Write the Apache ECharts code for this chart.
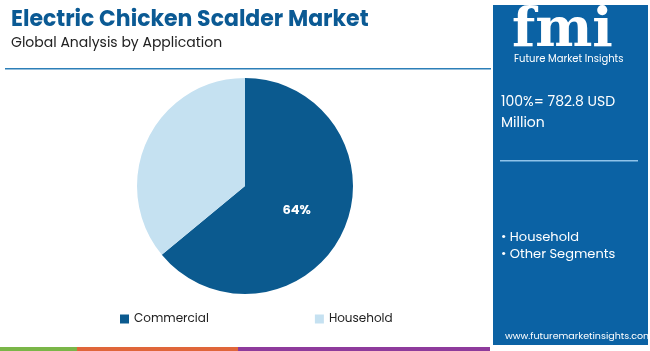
<!DOCTYPE html>
<html>
<head>
<meta charset="utf-8">
<script src="https://cdn.jsdelivr.net/npm/echarts@6/dist/echarts.min.js"></script>
<style>
  html, body { margin: 0; padding: 0; background: #fff; }
  #chart { width: 650px; height: 351px; }
</style>
</head>
<body>
<div id="chart"></div>
<script>
var categories = ['Commercial', 'Household'];
var shares = [64, 36];
var colors = ['#0b5a8f', '#c5e1f1'];
var panelTotal = '100%= 782.8 USD';
var panelUnit = 'Million';
var panelItems = ['• Household', '• Other Segments'];

var myChart = echarts.init(document.getElementById('chart'));

var pieData = [];
for (var i = 0; i < categories.length; i++) {
    pieData.push({
        name: categories[i],
        value: shares[i],
        itemStyle: { color: colors[i] },
        label: { show: i === 0 }
    });
}

var fontFam = 'Poppins, "Open Sans", "Noto Sans", sans-serif';

myChart.setOption({
    animation: false,
    title: [
        {
            text: 'Electric Chicken Scalder Market',
            left: 6, top: 4,
            textStyle: { color: '#0b5a94', fontSize: 22, fontWeight: 'bold', fontFamily: fontFam }
        },
        {
            text: 'Global Analysis by Application',
            left: 6, top: 31,
            textStyle: { color: '#222', fontSize: 14, fontWeight: 'normal', fontFamily: fontFam }
        }
    ],
    legend: {
        data: categories,
        left: 115, top: 308,
        itemGap: 106,
        itemWidth: 9, itemHeight: 9,
        icon: 'rect',
        textStyle: { color: '#222', fontSize: 12, fontFamily: fontFam }
    },
    graphic: [
        { type: 'rect', shape: { x: 5, y: 68, width: 486, height: 1.5 }, style: { fill: '#2c7fb8' } },
        { type: 'rect', shape: { x: 493, y: 5, width: 155, height: 340 }, style: { fill: '#0b62a4' } },
        { type: 'text', left: 512, top: 5, style: { text: 'fmi', fill: '#fff', font: 'bold 54px "DejaVu Serif", serif' } },
        { type: 'text', left: 514, top: 54, style: { text: 'Future Market Insights', fill: '#fff', font: '10px ' + fontFam } },
        { type: 'text', left: 501, top: 95, style: { text: panelTotal, fill: '#fff', font: '14px ' + fontFam } },
        { type: 'text', left: 501, top: 116, style: { text: panelUnit, fill: '#fff', font: '14px ' + fontFam } },
        { type: 'rect', shape: { x: 500, y: 160, width: 138, height: 1.5 }, style: { fill: '#8fc3ea' } },
        { type: 'text', left: 501, top: 231, style: { text: panelItems[0], fill: '#fff', font: '13px ' + fontFam } },
        { type: 'text', left: 501, top: 248, style: { text: panelItems[1], fill: '#fff', font: '13px ' + fontFam } },
        { type: 'text', left: 505, top: 332, style: { text: 'www.futuremarketinsights.com', fill: '#fff', font: '9.5px ' + fontFam } },
        { type: 'rect', shape: { x: 0, y: 347, width: 77, height: 4 }, style: { fill: '#7ab648' } },
        { type: 'rect', shape: { x: 77, y: 347, width: 161, height: 4 }, style: { fill: '#e0663a' } },
        { type: 'rect', shape: { x: 238, y: 347, width: 252, height: 4 }, style: { fill: '#8e3b9c' } }
    ],
    series: [
        {
            type: 'pie',
            radius: 108,
            center: [245, 186],
            startAngle: 90,
            clockwise: true,
            data: pieData,
            label: {
                position: 'inside',
                formatter: '{c}%',
                color: '#fff',
                fontSize: 13,
                fontWeight: 'bold',
                fontFamily: fontFam
            },
            labelLine: { show: false },
            emphasis: { disabled: true }
        }
    ]
});
</script>
</body>
</html>
